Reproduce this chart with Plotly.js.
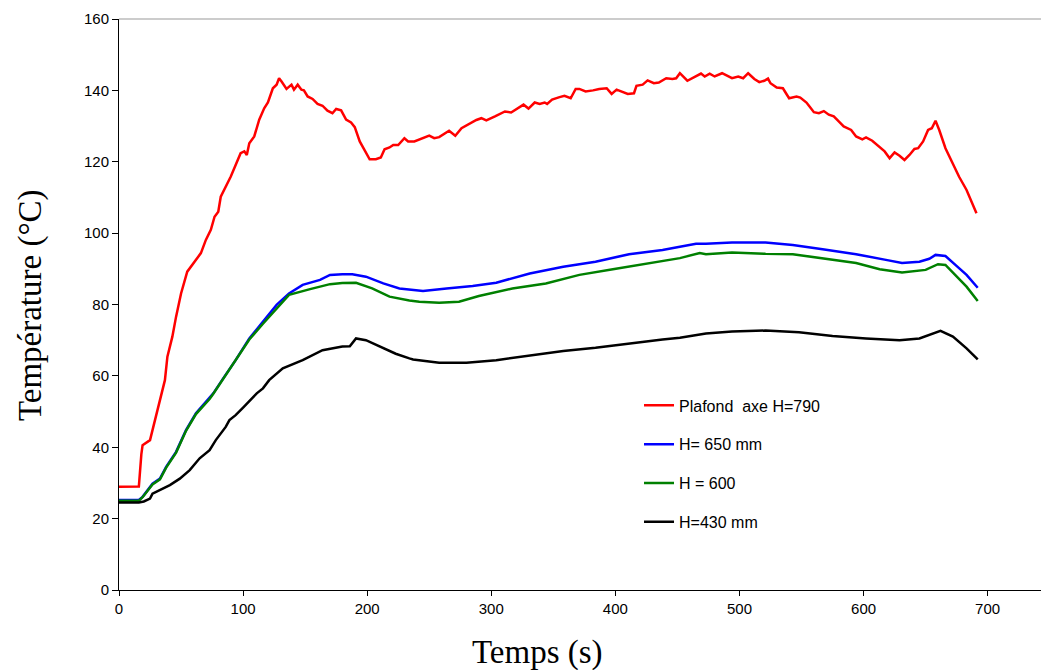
<!DOCTYPE html>
<html>
<head>
<meta charset="utf-8">
<script src="https://cdn.plot.ly/plotly-3.0.1.min.js"></script>
<style>html,body{margin:0;padding:0;background:#fff;}</style>
</head>
<body>
<div id="chart" style="width:1041px;height:670px;"></div>
<script>
// Series names
const seriesNames = ["Plafond  axe H=790", "H= 650 mm", "H = 600", "H=430 mm"];

// Plafond axe H=790 (red)
const redTime = [0,15,16,18,19,25,27,32,37,39,43,46,50,55,61,66,70,74,77,80,82,86,90,94,98,101,103,105,109,113,117,120,124,127,129,131,135,139,141,144,147,149,152,156,160,164,168,172,175,179,183,187,190,194,198,202,207,211,214,218,221,225,230,233,238,245,250,254,258,266,271,276,281,288,292,296,303,311,316,323,326,330,335,339,343,345,349,355,359,364,368,371,376,382,387,393,397,401,405,410,415,417,422,426,431,435,441,446,449,452,458,464,469,472,476,480,486,490,494,499,503,507,512,516,520,523,525,530,535,540,546,549,554,556,560,564,568,572,576,580,584,590,594,599,602,607,612,617,621,625,629,633,637,641,644,648,652,655,658,661,666,672,677,683,691];
const redTemp = [28.9,28.9,29,38,40.6,42,44.8,52.4,58.8,65.4,71,76.6,83.1,89.2,92,94.4,98.1,100.9,104.6,106,110.2,113,115.8,119.1,122.4,122.9,121.9,125.2,127.1,131.8,135,136.6,140.6,141.6,143.4,142.5,140.4,141.6,140.2,141.6,140.2,140,138.3,137.6,136.2,135.7,134.3,133.6,134.8,134.4,131.8,131,129.7,125.7,123.3,120.7,120.7,121.2,123.5,124,124.7,124.7,126.6,125.7,125.7,126.6,127.3,126.6,126.9,128.7,127.3,129.4,130.4,131.7,132.2,131.6,132.7,134.1,133.8,135.3,136,134.9,136.6,136.2,136.6,136.2,137.4,138.1,138.5,137.8,140.4,140.4,139.7,140,140.4,140.6,139,140.2,139.7,139,139.2,141.3,141.6,142.8,142,142.2,143.4,143.2,143.4,144.8,142.7,143.9,144.7,143.9,144.7,143.9,144.8,144.1,143.4,143.9,143.4,144.8,143.2,142.3,142.7,143.3,142,140.8,140.6,137.8,138.3,138,136.6,135.7,133.9,133.6,134.2,133.2,132.7,131.3,129.9,128.9,127.1,126.3,126.8,125.9,124.3,122.9,121,122.6,121.7,120.5,121.9,123.6,123.8,125.7,128.9,129.4,131.5,128.9,123.8,119.6,115.8,112.1,105.6];

// H= 650 mm (blue)
const blueTime = [0,16,19,27,33,38,46,54,62,73,76,84,94,105,116,127,137,148,162,170,180,188,199,213,226,245,264,285,304,331,358,384,411,438,452,465,473,494,521,543,567,594,618,631,645,653,658,666,674,683,692];
const blueTemp = [25.2,25.2,26.1,29.8,31.2,34.5,38.7,44.8,49.5,53.7,55.1,59.3,64.4,70.5,75.2,79.9,83.1,85.5,86.9,88.3,88.5,88.5,87.8,85.9,84.5,83.8,84.5,85.2,86.1,88.7,90.6,92,94.1,95.3,96.2,97,97,97.4,97.4,96.7,95.5,94.1,92.5,91.6,92,92.8,93.9,93.6,91.1,88.3,84.7];

// H = 600 (green)
const greenTime = [0,16,19,27,33,38,46,54,62,73,76,84,94,105,116,127,137,154,170,180,191,204,218,234,242,258,274,290,317,344,371,398,425,452,468,473,494,521,543,567,594,613,631,650,660,666,674,683,692];
const greenTemp = [25,25,26,29.6,31,34.3,38.5,44.6,49.3,53.5,55,59.1,64.2,70.2,74.6,78.9,82.7,84.3,85.7,86,86.1,84.5,82.2,81.1,80.8,80.5,80.8,82.4,84.5,85.9,88.3,89.9,91.4,93,94.4,94.1,94.6,94.2,94.1,93,91.6,89.9,89,89.7,91.3,91.1,88.3,85,81];

// H=430 mm (black)
const blackTime = [0,16,20,25,27,41,49,57,65,73,78,86,89,94,100,108,111,116,121,132,148,164,180,186,191,199,213,223,234,237,258,280,304,331,358,384,411,438,452,473,494,521,548,575,602,629,645,653,662,672,683,692];
const blackTemp = [24.5,24.5,24.8,25.6,27,29.4,31.2,33.6,36.9,39.2,42,45.7,47.6,49,51.1,54.1,55.1,56.5,58.8,62.1,64.4,67.2,68.2,68.3,70.5,70,67.7,66.2,64.9,64.6,63.7,63.7,64.4,65.8,67,67.9,69.1,70.2,70.7,71.9,72.4,72.7,72.2,71.2,70.5,70,70.5,71.4,72.6,71,67.7,64.6];

// Axis ticks and titles
const xTicks = [0,100,200,300,400,500,600,700];
const yTicks = [0,20,40,60,80,100,120,140,160];
const xTitle = "Temps (s)";
const yTitle = "Température (°C)";

const colors = ["#ff0000", "#0000ff", "#008000", "#000000"];
const xs = [redTime, blueTime, greenTime, blackTime];
const ys = [redTemp, blueTemp, greenTemp, blackTemp];

const traces = seriesNames.map((name, i) => ({
  type: "scatter",
  mode: "lines",
  name: name,
  x: xs[i],
  y: ys[i],
  legendgroup: "g" + i,
  line: {color: colors[i], width: 2.5}
}));

const tickFont = {family: "Liberation Sans, Arial, sans-serif", size: 15, color: "#000"};
const titleFont = {family: "Liberation Serif, Times New Roman, serif", size: 33, color: "#000"};

const layout = {
  width: 1041,
  height: 670,
  margin: {l: 119, r: 0, t: 19, b: 80},
  paper_bgcolor: "#fff",
  plot_bgcolor: "#fff",
  showlegend: true,
  legend: {
    x: 0.564, y: 0.353, xanchor: "left", yanchor: "top",
    font: {family: "Liberation Sans, Arial, sans-serif", size: 16, color: "#000"},
    traceorder: "grouped", tracegroupgap: 15,
    bgcolor: "rgba(0,0,0,0)"
  },
  xaxis: {
    range: [0, 743],
    tickvals: xTicks,
    ticktext: xTicks.map(String),
    ticks: "outside", ticklen: 5, tickcolor: "#000", tickwidth: 1,
    showline: true, linecolor: "#000", linewidth: 1,
    showgrid: false, zeroline: false,
    tickfont: tickFont
  },
  yaxis: {
    range: [0, 160],
    tickvals: yTicks,
    ticktext: yTicks.map(String),
    ticks: "outside", ticklen: 6, tickcolor: "#000", tickwidth: 1,
    showline: true, linecolor: "#000", linewidth: 1,
    showgrid: false, zeroline: false,
    tickfont: tickFont
  },
  annotations: [
    {text: xTitle, xref: "paper", yref: "paper", x: 0.4544, y: -0.1103,
     xanchor: "center", yanchor: "middle", showarrow: false, font: titleFont},
    {text: yTitle, xref: "paper", yref: "paper", x: -0.0965, y: 0.499, textangle: -90,
     xanchor: "center", yanchor: "middle", showarrow: false, font: titleFont}
  ],
  shapes: [{
    type: "line", xref: "paper", yref: "paper",
    x0: 0, x1: 1, y0: 1, y1: 1,
    line: {color: "#999", width: 1}
  }]
};

Plotly.newPlot("chart", traces, layout, {displayModeBar: false, staticPlot: true});
</script>
</body>
</html>
